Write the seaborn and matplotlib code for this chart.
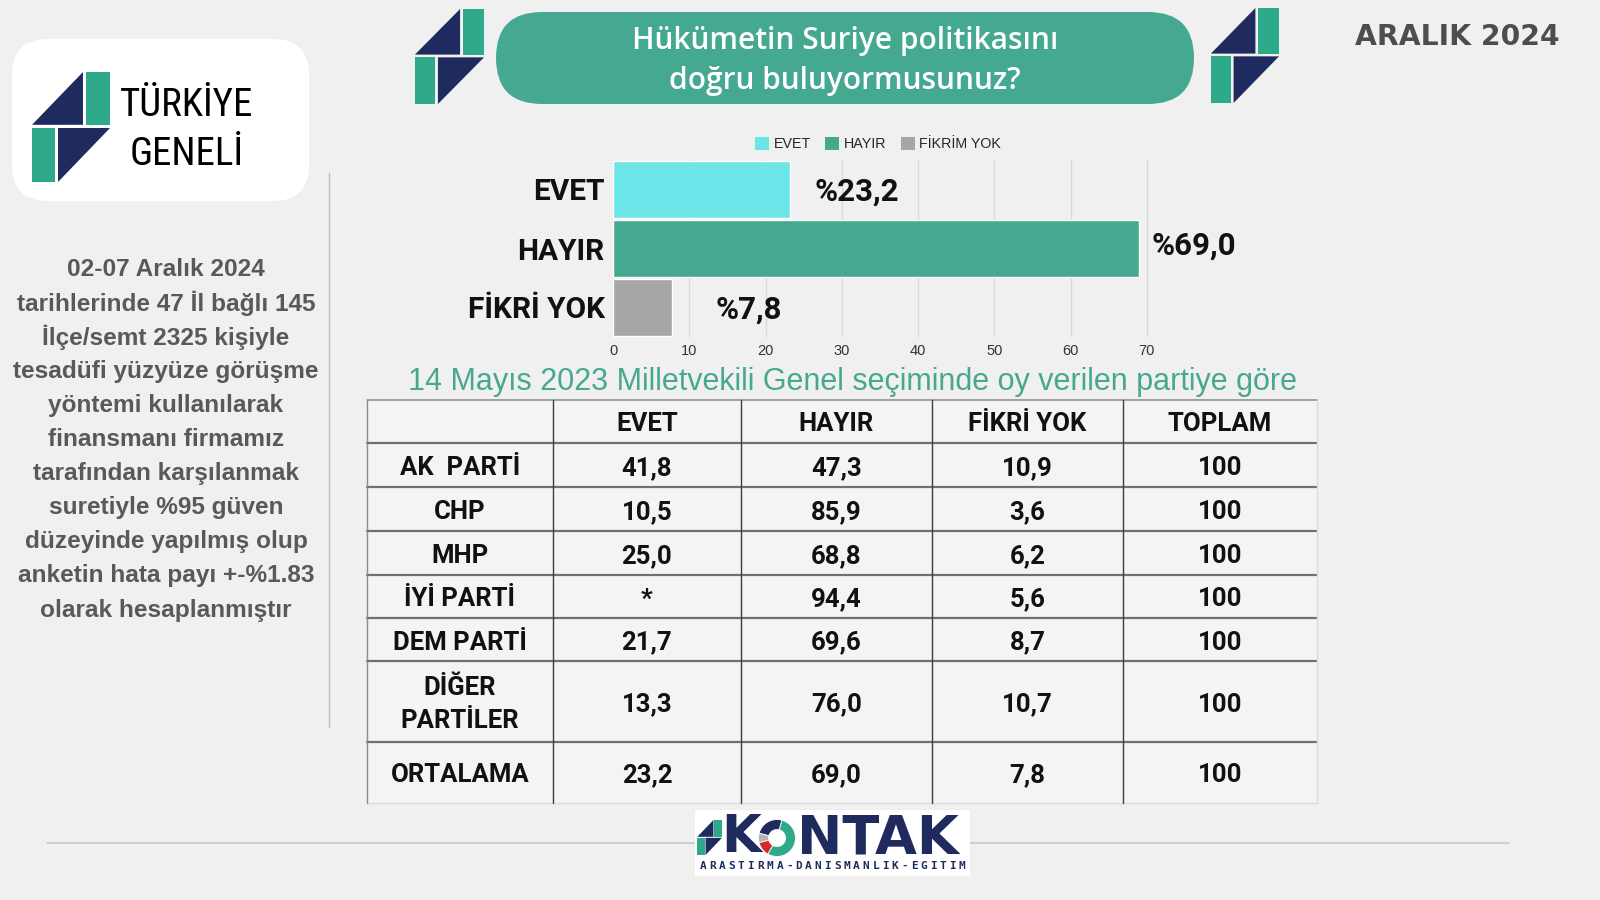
import matplotlib
matplotlib.use("Agg")
import matplotlib.pyplot as plt
import seaborn as sns
import pandas as pd
import numpy as np
from matplotlib import font_manager as fm
from matplotlib.patches import FancyBboxPatch, Polygon, Patch, Wedge, Rectangle

# ---------------- data ----------------
bar_categories = ["EVET", "HAYIR", "FİKRİ YOK"]
bar_values = [23.2, 69.0, 7.8]
legend_labels = ["EVET", "HAYIR", "FİKRİM YOK"]
x_ticks = [0, 10, 20, 30, 40, 50, 60, 70]

table_header = ["EVET", "HAYIR", "FİKRİ YOK", "TOPLAM"]
parties = ["AK  PARTİ", "CHP", "MHP", "İYİ PARTİ", "DEM PARTİ", "DİĞER\nPARTİLER", "ORTALAMA"]
evet_vals = [41.8, 10.5, 25.0, None, 21.7, 13.3, 23.2]
hayir_vals = [47.3, 85.9, 68.8, 94.4, 69.6, 76.0, 69.0]
fikri_vals = [10.9, 3.6, 6.2, 5.6, 8.7, 10.7, 7.8]
toplam_vals = [100, 100, 100, 100, 100, 100, 100]

title_text = "Hükümetin Suriye politikasını\ndoğru buluyormusunuz?"
date_text = "ARALIK 2024"
region_text = "TÜRKİYE\nGENELİ"
subtitle_text = "14 Mayıs 2023 Milletvekili Genel seçiminde oy verilen partiye göre"
method_lines = [
    "02-07 Aralık 2024",
    "tarihlerinde 47 İl bağlı 145",
    "İlçe/semt 2325 kişiyle",
    "tesadüfi yüzyüze görüşme",
    "yöntemi kullanılarak",
    "finansmanı firmamız",
    "tarafından karşılanmak",
    "suretiyle %95 güven",
    "düzeyinde yapılmış olup",
    "anketin hata payı +-%1.83",
    "olarak hesaplanmıştır",
]
brand_name = "NTAK"
brand_tagline = "ARASTIRMA-DANISMANLIK-EGITIM"
logo_shares = [195, 90, 30, 45]  # teal, navy, gray, red (logo decoration)

# ---------------- style ----------------
sns.set_style("white")
names = {f.name for f in fm.fontManager.ttflist}
def pick(*cands):
    for c in cands:
        if c in names:
            return c
    return "DejaVu Sans"

F_BOLD = pick("Roboto", "Open Sans", "DejaVu Sans")
F_COND = pick("Roboto Condensed", "Liberation Sans Narrow", "Roboto")
F_TITLE = pick("Open Sans", "Roboto", "DejaVu Sans")
F_ARIAL = pick("Liberation Sans", "Roboto", "DejaVu Sans")
plt.rcParams["font.family"] = [F_BOLD, "DejaVu Sans"]

BG = "#f0f0f0"
TEAL = "#45a890"
CYAN = "#6ce5e8"
GRAY = "#a6a6a6"
LOGO_TEAL = "#2eaa8a"
NAVY = "#1f2a5e"
bar_colors = [CYAN, TEAL, GRAY]

fig = plt.figure(figsize=(16, 9), dpi=100, facecolor=BG)

# overlay axes in pixel coordinates
ov = fig.add_axes([0, 0, 1, 1])
ov.set_xlim(0, 1600)
ov.set_ylim(900, 0)
ov.axis("off")
ov.patch.set_alpha(0)


def logo(ax, x0, y0, w, h, teal=LOGO_TEAL, navy=NAVY, z=3):
    P = lambda pts: [(x0 + px * w, y0 + py * h) for px, py in pts]
    ax.add_patch(Polygon(P([(0.696, 0), (1, 0), (1, 0.48), (0.696, 0.48)]), closed=True, fc=teal, ec="none", zorder=z))
    ax.add_patch(Polygon(P([(0.013, 0.48), (0.658, 0), (0.658, 0.48)]), closed=True, fc=navy, ec="none", zorder=z))
    ax.add_patch(Polygon(P([(0.013, 0.509), (0.304, 0.509), (0.304, 1), (0.013, 1)]), closed=True, fc=teal, ec="none", zorder=z))
    ax.add_patch(Polygon(P([(0.342, 0.509), (1, 0.509), (0.342, 1)]), closed=True, fc=navy, ec="none", zorder=z))


# ---- left panel ----
ov.add_patch(FancyBboxPatch((12, 39), 297, 162, boxstyle="round,pad=0,rounding_size=36",
                            fc="white", ec="none", zorder=1))
logo(ov, 31, 72, 79, 110)
ov.text(187, 130, region_text, ha="center", va="center", fontsize=28, color="black",
        family=[F_COND, "DejaVu Sans"], linespacing=1.4, zorder=3)

ov.plot([329, 329], [173, 727], color="#bdbdbd", lw=1.0, zorder=1)
for i, line in enumerate(method_lines):
    ov.text(166, 269 + i * 34.1, line, ha="center", va="center", fontsize=17.6, fontweight="bold",
            color="#595959", family=[F_ARIAL, "DejaVu Sans"])

# ---- title ----
ov.add_patch(FancyBboxPatch((496, 12), 698, 92, boxstyle="round,pad=0,rounding_size=46",
                            fc=TEAL, ec="none", zorder=1))
ov.text(845, 61, title_text, ha="center", va="center", fontsize=21.5, fontweight="semibold",
        color="white", family=[F_TITLE, "DejaVu Sans"], linespacing=1.45, zorder=3)
logo(ov, 414, 9, 70, 95)
logo(ov, 1210, 8, 69, 95)
ov.text(1457, 37, date_text, ha="center", va="center", fontsize=20.3, fontweight="bold",
        color="#4d4d4d", family="DejaVu Sans")

# ---- bar chart ----
ax = fig.add_axes([613 / 1600, 1 - 337 / 900, 610 / 1600, 177 / 900])
ax.patch.set_alpha(0)
df = pd.DataFrame({"cat": bar_categories, "val": bar_values})
sns.barplot(data=df, x="val", y="cat", hue="cat", palette=dict(zip(bar_categories, bar_colors)),
            legend=False, width=0.95, saturation=1, ax=ax, zorder=3)
ax.set_xlim(0, 80)
ax.set_ylim(2.5, -0.5)
ax.set_xticks(x_ticks)
ax.set_xticklabels([str(t) for t in x_ticks], fontsize=10.5, color="#333333", family=[F_ARIAL])
ax.grid(axis="x", color="#d9d9d9", lw=1)
ax.grid(axis="y", visible=False)
ax.set_axisbelow(True)
for s in ax.spines.values():
    s.set_visible(False)
ax.set_xlabel("")
ax.set_ylabel("")
ax.tick_params(axis="both", length=0)
ax.tick_params(axis="x", pad=5)
ax.tick_params(axis="y", pad=6)
for lbl in ax.get_yticklabels():
    lbl.set_fontsize(21.5)
    lbl.set_fontweight("bold")
    lbl.set_color("#111111")
label_pad_px = [25, 12, 43]
label_dy_px = [-2, 3, -2]
for i, v in enumerate(bar_values):
    ax.annotate("%" + f"{v:.1f}".replace(".", ","), (v, i),
                xytext=(label_pad_px[i] * 0.72, label_dy_px[i] * 0.72),
                textcoords="offset points", ha="left", va="center", fontsize=22.5,
                fontweight="bold", color="#111111")

handles = [Patch(facecolor=c, edgecolor="none", label=l) for c, l in zip(bar_colors, legend_labels)]
fig.legend(handles=handles, ncol=3, loc="center", bbox_to_anchor=(878 / 1600, 1 - 144 / 900),
           frameon=False, handlelength=1.0, handleheight=1.0, handletextpad=0.3,
           columnspacing=1.0, prop={"family": [F_ARIAL], "size": 10.3})

# ---- subtitle ----
ov.text(852, 382, subtitle_text, ha="center", va="center", fontsize=22, color="#46a98f",
        family=[F_ARIAL, "DejaVu Sans"])

# ---- table ----
col_x = [367, 553, 741, 932, 1123, 1317]
row_y = [400, 443, 487, 531, 575, 618, 661, 742, 803]
ov.add_patch(Rectangle((col_x[0], row_y[0]), col_x[-1] - col_x[0], row_y[-1] - row_y[0],
                       fc="#f4f4f4", ec="none", zorder=1))
for y in row_y[1:-1]:
    ov.plot([col_x[0], col_x[-1]], [y, y], color="#707070", lw=1.6, zorder=2)
ov.plot([col_x[0], col_x[-1]], [row_y[0], row_y[0]], color="#8a8a8a", lw=1.1, zorder=2)
ov.plot([col_x[0], col_x[-1]], [row_y[-1], row_y[-1]], color="#dcdcdc", lw=1.0, zorder=2)
for x in col_x[1:-1]:
    ov.plot([x, x], [row_y[0], row_y[-1]], color="#3c3c3c", lw=1.0, zorder=2)
ov.plot([col_x[0], col_x[0]], [row_y[0], row_y[-1]], color="#8a8a8a", lw=1.0, zorder=2)
ov.plot([col_x[-1], col_x[-1]], [row_y[0], row_y[-1]], color="#dcdcdc", lw=1.0, zorder=2)

def fmt(v):
    if v is None:
        return "*"
    if isinstance(v, int):
        return str(v)
    return f"{v:.1f}".replace(".", ",")

TFS = 18.5
for j, h in enumerate(table_header):
    ov.text((col_x[j + 1] + col_x[j + 2]) / 2, (row_y[0] + row_y[1]) / 2 + 2.5, h, ha="center",
            va="center", fontsize=TFS, fontweight="bold", color="#111111", zorder=3)
columns = [evet_vals, hayir_vals, fikri_vals, toplam_vals]
for i, p in enumerate(parties):
    yc = (row_y[i + 1] + row_y[i + 2]) / 2 + 3
    ov.text((col_x[0] + col_x[1]) / 2, yc, p, ha="center", va="center", fontsize=TFS,
            fontweight="bold", color="#111111", linespacing=1.45, zorder=3)
    for j, col in enumerate(columns):
        ov.text((col_x[j + 1] + col_x[j + 2]) / 2, yc, fmt(col[i]), ha="center", va="center",
                fontsize=TFS, fontweight="bold", color="#111111", zorder=3)

# ---- footer ----
ov.plot([47, 1509], [843, 843], color="#c8c8c8", lw=1.2, zorder=1)
ov.add_patch(Rectangle((695, 810), 275, 66, fc="white", ec="none", zorder=2))
logo(ov, 697, 820, 25, 35)
ov.text(721, 838, "K", ha="left", va="center", fontsize=37, fontweight="bold", color=NAVY,
        family="DejaVu Sans", zorder=3)
# donut "O" (visual angles converted for inverted y-axis)
ring_cols = [LOGO_TEAL, NAVY, "#b5b5b5", "#d42a2a"]
start = -120.0
for share, c in zip(logo_shares, ring_cols):
    a, b = start, start + share
    ov.add_patch(Wedge((777, 838), 18.5, -b, -a, width=10, fc=c, ec="white", lw=0.6, zorder=3))
    start = b
ov.text(797, 838, brand_name, ha="left", va="center", fontsize=39, fontweight="bold", color=NAVY,
        family="DejaVu Sans", zorder=3)
xs = np.linspace(703, 962, len(brand_tagline))
for x, ch in zip(xs, brand_tagline):
    ov.text(x, 866, ch, ha="center", va="center", fontsize=8, fontweight="bold",
            color=NAVY, family="DejaVu Sans Mono", zorder=3)

fig.savefig("out.png", dpi=100, facecolor=BG)
